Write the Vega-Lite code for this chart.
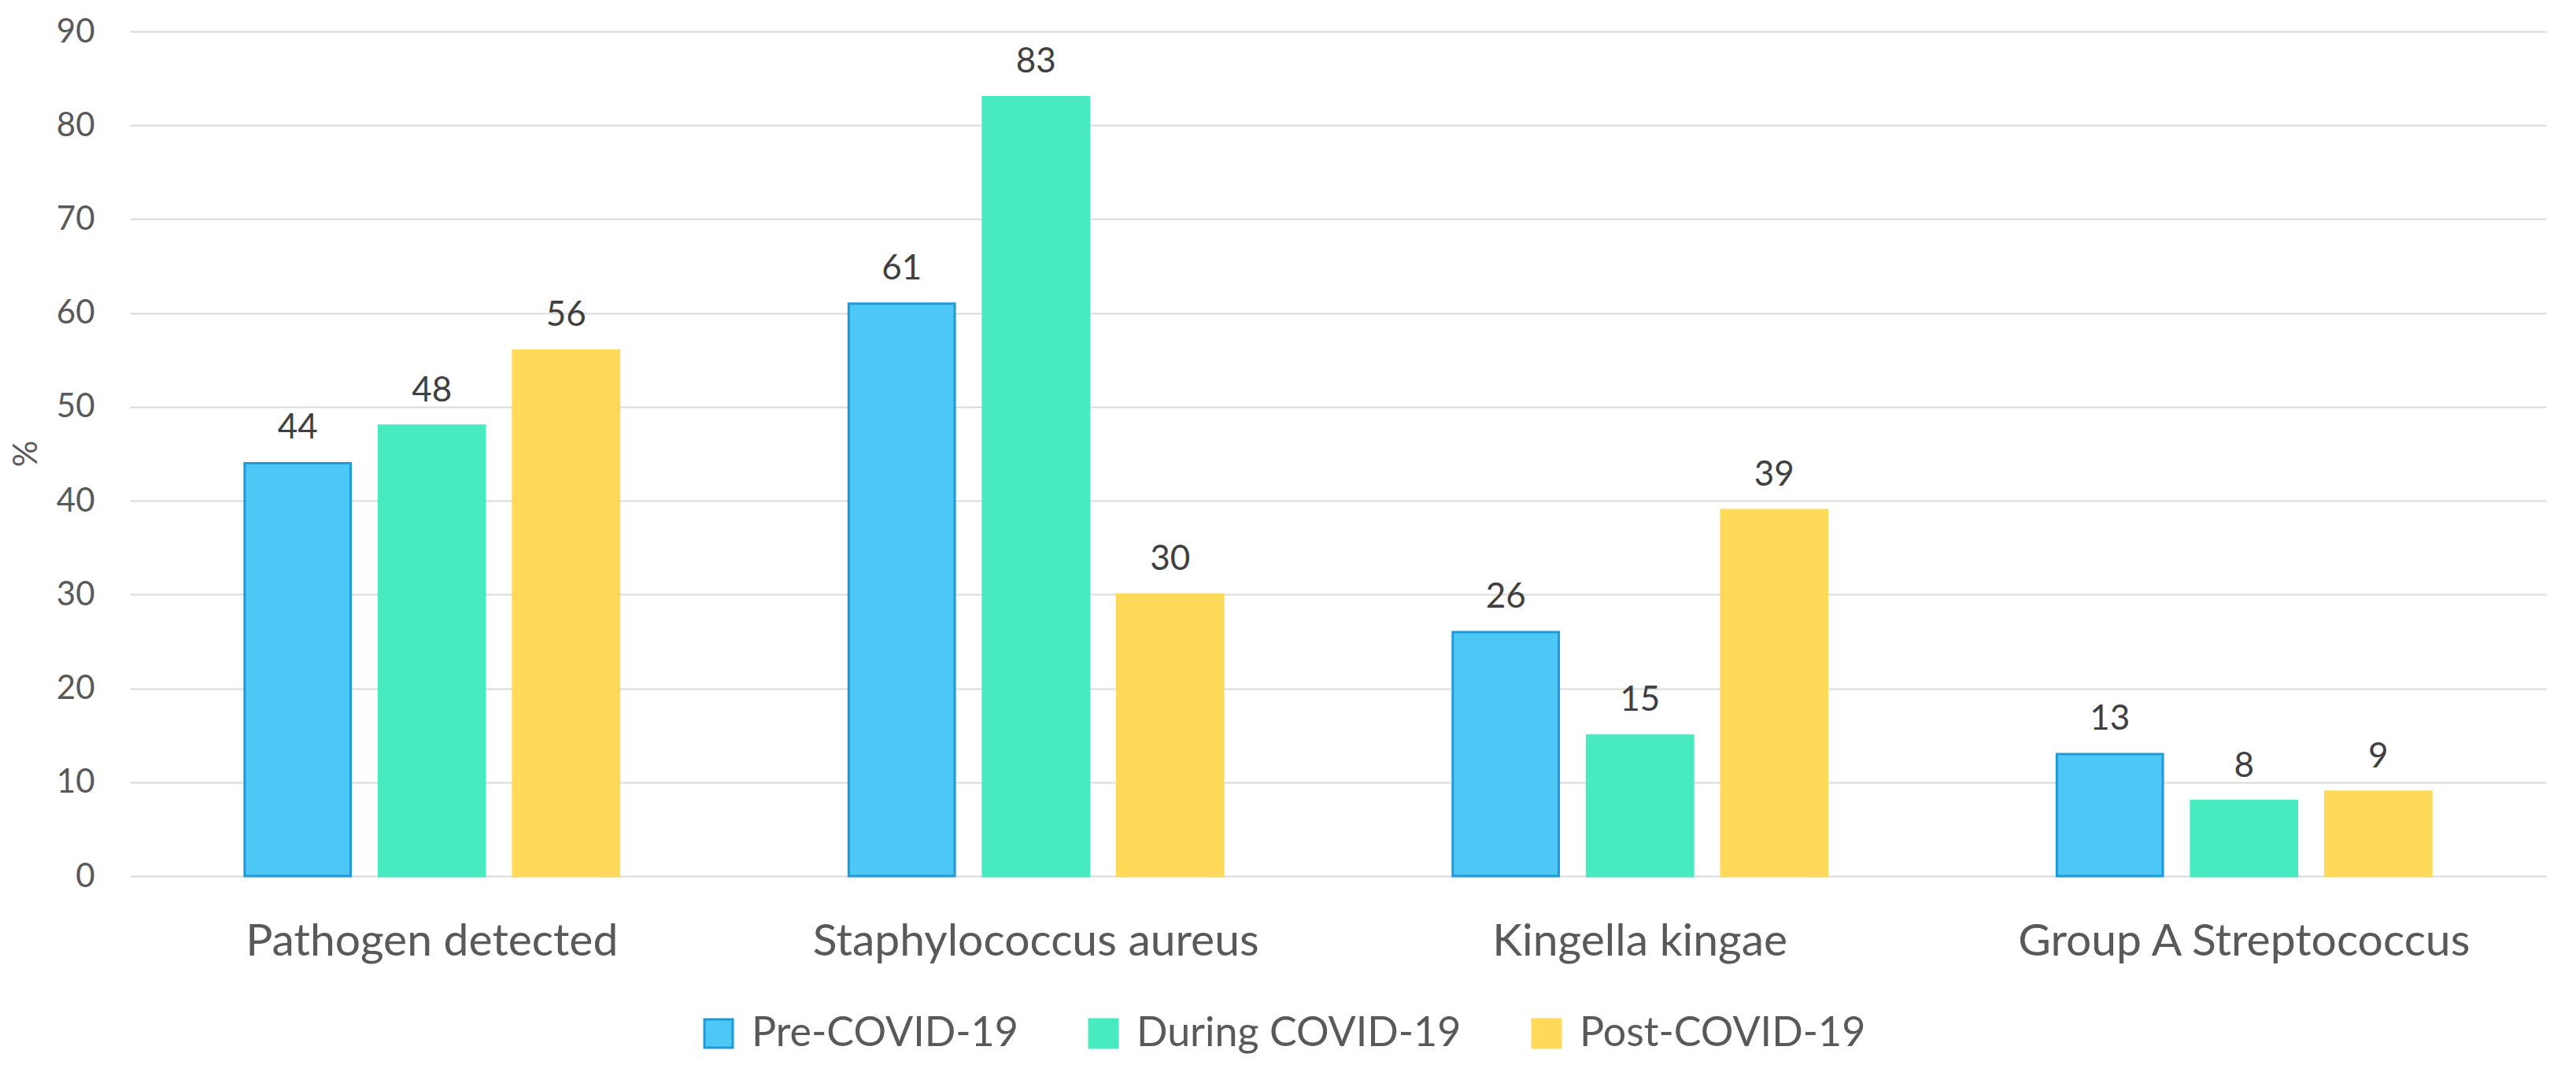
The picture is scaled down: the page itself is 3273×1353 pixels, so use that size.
{
  "$schema": "https://vega.github.io/schema/vega-lite/v6.json",
  "width": 3070,
  "height": 1073,
  "autosize": {"type": "none"},
  "padding": {"left": 165, "top": 40, "right": 38, "bottom": 240},
  "background": "white",
  "config": {"view": {"stroke": null}, "font": "Lato"},
  "data": {
    "values": [
      {"pathogen": "Pathogen detected", "period": "Pre-COVID-19", "pct": 44},
      {"pathogen": "Pathogen detected", "period": "During COVID-19", "pct": 48},
      {"pathogen": "Pathogen detected", "period": "Post-COVID-19", "pct": 56},
      {"pathogen": "Staphylococcus aureus", "period": "Pre-COVID-19", "pct": 61},
      {"pathogen": "Staphylococcus aureus", "period": "During COVID-19", "pct": 83},
      {"pathogen": "Staphylococcus aureus", "period": "Post-COVID-19", "pct": 30},
      {"pathogen": "Kingella kingae", "period": "Pre-COVID-19", "pct": 26},
      {"pathogen": "Kingella kingae", "period": "During COVID-19", "pct": 15},
      {"pathogen": "Kingella kingae", "period": "Post-COVID-19", "pct": 39},
      {"pathogen": "Group A Streptococcus", "period": "Pre-COVID-19", "pct": 13},
      {"pathogen": "Group A Streptococcus", "period": "During COVID-19", "pct": 8},
      {"pathogen": "Group A Streptococcus", "period": "Post-COVID-19", "pct": 9}
    ]
  },
  "encoding": {
    "x": {
      "field": "pathogen",
      "type": "nominal",
      "sort": ["Pathogen detected", "Staphylococcus aureus", "Kingella kingae", "Group A Streptococcus"],
      "scale": {"paddingInner": 0.38, "paddingOuter": 0.19},
      "axis": {
        "title": null,
        "labelAngle": 0,
        "labelFontSize": 57,
        "labelColor": "#595959",
        "labelPadding": 55,
        "labelBaseline": "top",
        "labelLimit": 0,
        "ticks": false,
        "domain": false
      }
    },
    "xOffset": {
      "field": "period",
      "type": "nominal",
      "sort": ["Pre-COVID-19", "During COVID-19", "Post-COVID-19"],
      "scale": {"paddingInner": 0.21, "paddingOuter": 0}
    },
    "y": {
      "field": "pct",
      "type": "quantitative",
      "scale": {"domain": [0, 90], "nice": false},
      "axis": {
        "values": [0, 10, 20, 30, 40, 50, 60, 70, 80, 90],
        "title": "%",
        "titleFontSize": 42,
        "titleFontWeight": "normal",
        "titleColor": "#595959",
        "titleX": -132,
        "titleY": 536,
        "titleAngle": -90,
        "titleAlign": "center",
        "titleBaseline": "middle",
        "labelFontSize": 42,
        "labelColor": "#595959",
        "labelPadding": 45,
        "ticks": false,
        "domain": false,
        "gridColor": "#D9D9D9",
        "gridWidth": 2
      }
    }
  },
  "layer": [
    {
      "mark": {"type": "bar", "strokeWidth": 3},
      "encoding": {
        "fill": {
          "field": "period",
          "type": "nominal",
          "sort": ["Pre-COVID-19", "During COVID-19", "Post-COVID-19"],
          "scale": {"domain": ["Pre-COVID-19", "During COVID-19", "Post-COVID-19"], "range": ["#4DC7F5", "#48EAC0", "#FED95A"]},
          "legend": {
            "orient": "none",
            "legendX": 722,
            "legendY": 1247,
            "direction": "horizontal",
            "title": null,
            "symbolType": "square",
            "symbolSize": 1296,
            "symbolStrokeWidth": 3,
            "labelFontSize": 52,
            "labelColor": "#595959",
            "labelOffset": 16,
            "labelLimit": 0,
            "columnPadding": 82
          }
        },
        "stroke": {
          "field": "period",
          "type": "nominal",
          "sort": ["Pre-COVID-19", "During COVID-19", "Post-COVID-19"],
          "scale": {"domain": ["Pre-COVID-19", "During COVID-19", "Post-COVID-19"], "range": ["#1E9BD7", "#48EAC0", "#FED95A"]},
          "legend": {
            "orient": "none",
            "legendX": 722,
            "legendY": 1247,
            "direction": "horizontal",
            "title": null,
            "symbolType": "square",
            "symbolSize": 1296,
            "symbolStrokeWidth": 3,
            "labelFontSize": 52,
            "labelColor": "#595959",
            "labelOffset": 16,
            "labelLimit": 0,
            "columnPadding": 82
          }
        }
      }
    },
    {
      "mark": {"type": "text", "baseline": "alphabetic", "dy": -31, "fontSize": 44, "color": "#404040"},
      "encoding": {"text": {"field": "pct", "type": "quantitative"}}
    }
  ]
}
